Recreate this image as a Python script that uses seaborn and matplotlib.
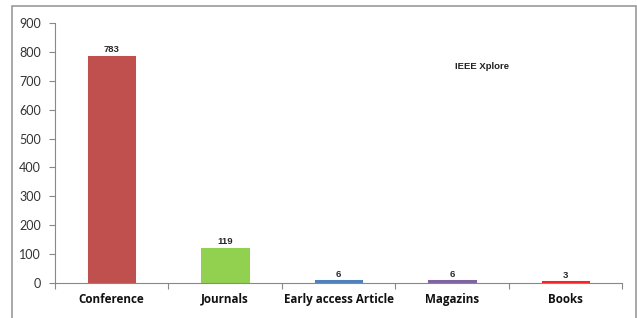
import seaborn as sns
import matplotlib.pyplot as plt
import matplotlib.patches as mpatches
import pandas as pd

# Dados
categorias = ["Conference", "Journals", "Early access Article", "Magazins", "Books"]
quantidades = [783, 119, 6, 6, 3]
cores = ["#C0504D", "#92D050", "#4F81BD", "#8064A2", "#FF2020"]
fonte = "IEEE Xplore"

df = pd.DataFrame({"Tipo": categorias, "Quantidade": quantidades})

sns.set_style("white")
plt.rcParams["font.family"] = ["Lato", "DejaVu Sans"]

fig = plt.figure(figsize=(6.37, 3.18), dpi=100)
ax = fig.add_axes([55 / 637, 1 - 283 / 318, (622 - 55) / 637, 260 / 318])

sns.barplot(data=df, x="Tipo", y="Quantidade", hue="Tipo", palette=cores,
            width=0.40, legend=False, ax=ax, saturation=1,
            linewidth=2.2)
for patch, c in zip(ax.patches, cores):
    patch.set_edgecolor(c)

# Rótulos das barras
for i, v in enumerate(quantidades):
    ax.text(i, v + 8, str(v), ha="center", va="bottom", fontsize=6.8,
            fontweight="bold", family=["Liberation Sans", "DejaVu Sans"])

ax.text(3.03, 740, fonte, fontsize=6.8, fontweight="bold",
        family=["Liberation Sans", "DejaVu Sans"], color="#222222")

ax.set_ylim(0, 900)
ax.set_xlim(-0.5, 4.5)
ax.set_yticks(range(0, 901, 100))
ax.set_xticks([i - 0.5 for i in range(6)], minor=True)
ax.set_xticks(range(5))
ax.set_xticklabels(categorias, fontsize=8.4, fontweight="bold", color="#111111",
                   family=["Open Sans", "DejaVu Sans"])
ax.tick_params(axis="y", labelsize=9, labelcolor="#333333", length=4,
               width=0.8, color="#888888", left=True, pad=6)
ax.tick_params(axis="x", which="major", length=0, pad=7)
ax.tick_params(axis="x", which="minor", length=4, width=0.8,
               color="#888888", bottom=True)
ax.set_xlabel("")
ax.set_ylabel("")

for s in ["top", "right"]:
    ax.spines[s].set_visible(False)
for s in ["left", "bottom"]:
    ax.spines[s].set_color("#888888")
    ax.spines[s].set_linewidth(0.8)

# Moldura externa
fig.patches.append(mpatches.Rectangle((12 / 637, -0.05), (636 - 12) / 637,
                                      1.05 - 6 / 318, transform=fig.transFigure,
                                      fill=False, edgecolor="#999999",
                                      linewidth=1.2))

plt.savefig("out.png", dpi=100)
